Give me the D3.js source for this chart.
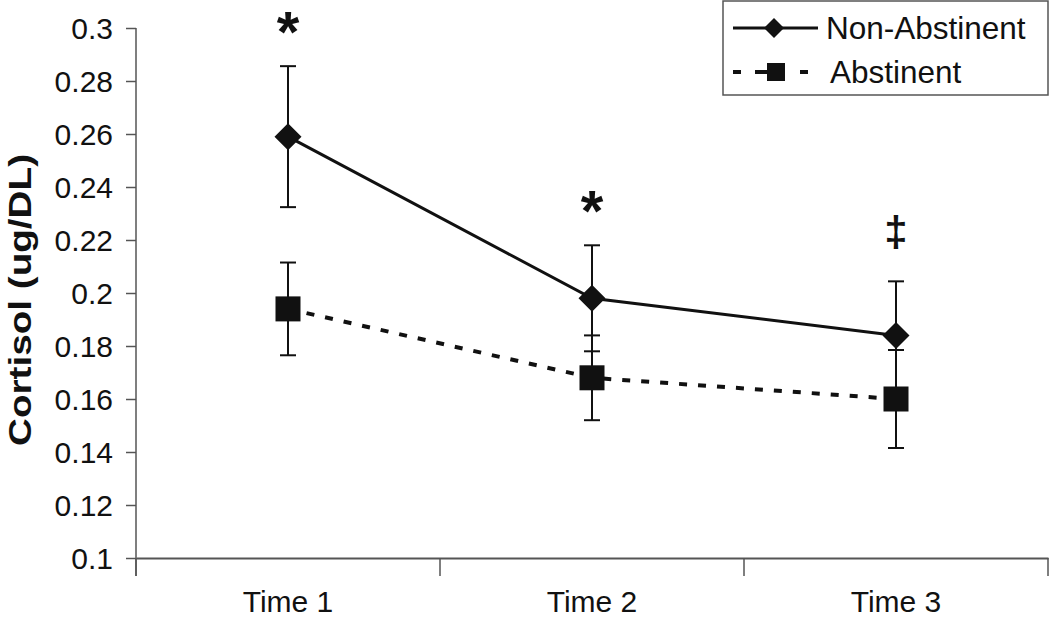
<!DOCTYPE html>
<html><head><meta charset="utf-8">
<script src="https://cdn.jsdelivr.net/npm/d3@7"></script>
<style>body{margin:0;background:#fff}svg{display:block}text{font-family:"Liberation Sans",Arial,sans-serif}</style>
</head><body>
<script>
const categories = ["Time 1", "Time 2", "Time 3"];
const nonAbstinent = [0.259, 0.198, 0.184];
const nonAbstinentErr = [0.0266, 0.020, 0.0204];
const abstinent = [0.194, 0.168, 0.160];
const abstinentErr = [0.0175, 0.016, 0.0185];
const annotations = ["*", "*", "‡"];
const yTicks = [0.1, 0.12, 0.14, 0.16, 0.18, 0.2, 0.22, 0.24, 0.26, 0.28, 0.3];
const yTickLabels = ["0.1","0.12","0.14","0.16","0.18","0.2","0.22","0.24","0.26","0.28","0.3"];

const W = 1050, H = 617;
const svg = d3.select("body").append("svg").attr("width", W).attr("height", H);
const x = d3.scaleBand().domain(categories).range([136, 1048]);
const y = d3.scaleLinear().domain([0.1, 0.3]).range([558, 28]);
const cx = c => x(c) + x.bandwidth() / 2;

// y axis
const ya = svg.append("g").attr("transform", "translate(136,0)")
  .call(d3.axisLeft(y).tickValues(yTicks).tickFormat((d, i) => yTickLabels[i]).tickSize(10).tickPadding(13));
ya.select(".domain").remove();
ya.selectAll(".tick line").attr("stroke", "#555").attr("stroke-width", 1.5);
ya.selectAll(".tick text").attr("font-size", 30).attr("fill", "#111").attr("dy", "0.35em");
svg.append("line").attr("x1", 136).attr("x2", 136).attr("y1", y(0.3)).attr("y2", y(0.1) + 18)
  .attr("stroke", "#555").attr("stroke-width", 1.5);

// x axis
const xa = svg.append("g").attr("transform", `translate(0,${y(0.1)})`)
  .call(d3.axisBottom(x).tickSize(0).tickPadding(33));
xa.select(".domain").attr("stroke", "#555").attr("stroke-width", 2);
xa.selectAll(".tick text").attr("font-size", 30).attr("fill", "#111");
const bounds = [136, ...categories.map(c => x(c) + x.bandwidth())];
svg.append("g").selectAll("line").data(bounds).join("line")
  .attr("x1", d => d).attr("x2", d => d).attr("y1", y(0.1)).attr("y2", y(0.1) + 18)
  .attr("stroke", "#555").attr("stroke-width", 1.5);

// y title
svg.append("text").attr("transform", `translate(31,${(y(0.3)+y(0.1))/2 + 7}) rotate(-90)`)
  .attr("text-anchor", "middle").attr("font-size", 32).attr("font-weight", "bold")
  .attr("textLength", 292).attr("lengthAdjust", "spacingAndGlyphs")
  .attr("fill", "#111").text("Cortisol (ug/DL)");

// error bars
function errBars(vals, errs) {
  const g = svg.append("g").attr("stroke", "#111").attr("stroke-width", 2);
  categories.forEach((c, i) => {
    const X = cx(c), top = y(vals[i] + errs[i]), bot = y(vals[i] - errs[i]);
    g.append("line").attr("x1", X).attr("x2", X).attr("y1", top).attr("y2", bot);
    g.append("line").attr("x1", X - 8).attr("x2", X + 8).attr("y1", top).attr("y2", top);
    g.append("line").attr("x1", X - 8).attr("x2", X + 8).attr("y1", bot).attr("y2", bot);
  });
}
errBars(abstinent, abstinentErr);
errBars(nonAbstinent, nonAbstinentErr);

const line = d3.line().x((d, i) => cx(categories[i])).y(d => y(d));
svg.append("path").datum(abstinent).attr("d", line).attr("fill", "none")
  .attr("stroke", "#111").attr("stroke-width", 4).attr("stroke-dasharray", "8,11");
svg.append("path").datum(nonAbstinent).attr("d", line).attr("fill", "none")
  .attr("stroke", "#111").attr("stroke-width", 3);

const diamond = s => `M0,${-s}L${s},0L0,${s}L${-s},0Z`;
svg.append("g").selectAll("rect").data(abstinent).join("rect")
  .attr("x", (d, i) => cx(categories[i]) - 12.5).attr("y", d => y(d) - 12.5)
  .attr("width", 25).attr("height", 25).attr("fill", "#111");
svg.append("g").selectAll("path").data(nonAbstinent).join("path")
  .attr("d", diamond(13.5)).attr("transform", (d, i) => `translate(${cx(categories[i])},${y(d)})`)
  .attr("fill", "#111");

// annotations (visual centre ~48px above the upper error cap)
svg.append("g").selectAll("text").data(annotations).join("text")
  .attr("x", (d, i) => cx(categories[i]))
  .attr("y", (d, i) => y(nonAbstinent[i] + nonAbstinentErr[i]) - 48)
  .attr("text-anchor", "middle")
  .attr("font-size", d => d === "*" ? 58 : 42).attr("font-weight", "bold")
  .attr("dy", d => d === "*" ? "0.58em" : "0.3em").attr("fill", "#111").text(d => d);

// legend
const lg = svg.append("g");
lg.append("rect").attr("x", 723).attr("y", 1).attr("width", 325).attr("height", 94)
  .attr("fill", "#fff").attr("stroke", "#555").attr("stroke-width", 1.5);
lg.append("line").attr("x1", 733).attr("x2", 818).attr("y1", 28).attr("y2", 28).attr("stroke", "#111").attr("stroke-width", 3);
lg.append("path").attr("d", diamond(10)).attr("transform", "translate(774,28)").attr("fill", "#111");
lg.append("text").attr("x", 826).attr("y", 28).attr("dy", "0.35em").attr("font-size", 31.5).attr("fill", "#111").text("Non-Abstinent");
lg.append("line").attr("x1", 733).attr("x2", 808).attr("y1", 72).attr("y2", 72).attr("stroke", "#111").attr("stroke-width", 4).attr("stroke-dasharray", "8,14,12,33,8,100");
lg.append("rect").attr("x", 767).attr("y", 63).attr("width", 18).attr("height", 18).attr("fill", "#111");
lg.append("text").attr("x", 830).attr("y", 72).attr("dy", "0.35em").attr("font-size", 31.5).attr("fill", "#111").text("Abstinent");
</script>
</body></html>
